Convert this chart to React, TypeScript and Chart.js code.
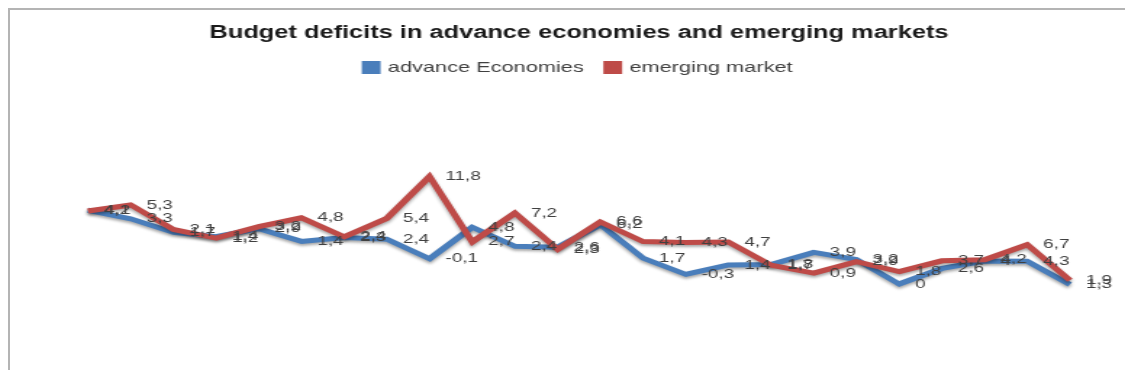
import { useEffect, useRef } from 'react';
import { Chart, registerables } from 'chart.js';

Chart.register(...registerables);

// ---- data ----
const CATEGORIES = ['1', '2', '3', '4', '5', '6', '7', '8', '9', '10', '11', '12', '13', '14', '15', '16', '17', '18', '19', '20', '21', '22', '23', '24'];
const ADVANCE_ECONOMIES = [4.2, 3.3, 1.7, 1.4, 2.9, 1.4, 2.3, 2.4, -0.1, 4.8, 2.4, 2.6, 6.2, 1.7, -0.3, 1.4, 1.8, 3.9, 3.2, 0, 2.6, 4, 4.3, 1.3];
const EMERGING_MARKET = [4.1, 5.3, 2.1, 1.2, 3.2, 4.8, 2.4, 5.4, 11.8, 2.7, 7.2, 2.3, 6.6, 4.1, 4.3, 4.7, 1.7, 0.9, 2.9, 1.8, 3.7, 4.2, 6.7, 1.9];
const SERIES_NAMES = ['advance Economies', 'emerging market'];
const TITLE = 'Budget deficits in advance economies and emerging markets';

// ---- layout / style ----
const CANVAS_W = 771;
const CANVAS_H = 355;
const STRETCH_X = 1.45; // the reference picture is stretched horizontally
const SKEW = 0.08; // the reference picture slopes downward to the right
const Y_MIN = -6;
const Y_MAX = 22.3;
const BLUE = '#4A7EBB';
const RED = '#BE4B48';

const fmt = (v: number) => String(v).replace('.', ',');

const shearPlugin = {
  id: 'shear',
  beforeDatasetsDraw(chart: any) {
    const { ctx, chartArea } = chart;
    ctx.save();
    ctx.transform(1, SKEW, 0, 1, 0, -SKEW * chartArea.left);
    ctx.shadowColor = 'rgba(0,0,0,0.35)';
    ctx.shadowBlur = 3;
    ctx.shadowOffsetY = 2;
  },
  afterDatasetsDraw(chart: any) {
    const { ctx, chartArea } = chart;
    ctx.restore();
    ctx.save();
    ctx.font = '13px "Liberation Sans", Arial, sans-serif';
    ctx.fillStyle = '#404040';
    ctx.textAlign = 'left';
    ctx.textBaseline = 'middle';
    chart.data.datasets.forEach((ds: any, di: number) => {
      const meta = chart.getDatasetMeta(di);
      meta.data.forEach((pt: any, i: number) => {
        const y = pt.y + SKEW * (pt.x - chartArea.left);
        ctx.fillText(fmt(ds.data[i]), pt.x + 11, y);
      });
    });
    ctx.restore();
  },
};

export default function App() {
  const ref = useRef<HTMLCanvasElement | null>(null);

  useEffect(() => {
    if (!ref.current) return;
    const chart = new Chart(ref.current, {
      type: 'line',
      data: {
        labels: CATEGORIES,
        datasets: [
          {
            label: SERIES_NAMES[0],
            data: ADVANCE_ECONOMIES,
            borderColor: BLUE,
            backgroundColor: BLUE,
            borderWidth: 5,
            pointRadius: 0,
            tension: 0,
            order: 1,
            clip: false as any,
          },
          {
            label: SERIES_NAMES[1],
            data: EMERGING_MARKET,
            borderColor: RED,
            backgroundColor: RED,
            borderWidth: 5,
            pointRadius: 0,
            tension: 0,
            order: 0,
            clip: false as any,
          },
        ],
      },
      options: {
        responsive: false,
        animation: false,
        devicePixelRatio: 1,
        layout: { padding: { left: 53.8, right: 40, top: 0, bottom: 84.2 } },
        scales: {
          x: { display: false, offset: false },
          y: { display: false, min: Y_MIN, max: Y_MAX },
        },
        plugins: {
          tooltip: { enabled: false },
          title: {
            display: true,
            text: TITLE,
            color: '#1a1a1a',
            font: { family: '"Liberation Sans", Arial, sans-serif', size: 17.5, weight: 'bold' },
            padding: { top: 13, bottom: 0 },
          },
          legend: {
            display: true,
            position: 'top',
            labels: {
              color: '#404040',
              boxWidth: 8,
              boxHeight: 8,
              padding: 16,
              font: { family: '"Liberation Sans", Arial, sans-serif', size: 15 },
              sort: (a: any, b: any) => a.datasetIndex - b.datasetIndex,
            },
          },
        },
      },
      plugins: [shearPlugin],
    });
    return () => chart.destroy();
  }, []);

  return (
    <div
      style={{
        borderLeft: '2px solid #b4b4b4',
        borderTop: '2px solid #b4b4b4',
        height: 368,
        marginBottom: -8,
        overflow: 'hidden',
        background: '#fff',
      }}
    >
      <canvas
        ref={ref}
        width={CANVAS_W}
        height={CANVAS_H}
        style={{ display: 'block', transform: `scaleX(${STRETCH_X})`, transformOrigin: '0 0' }}
      />
    </div>
  );
}
